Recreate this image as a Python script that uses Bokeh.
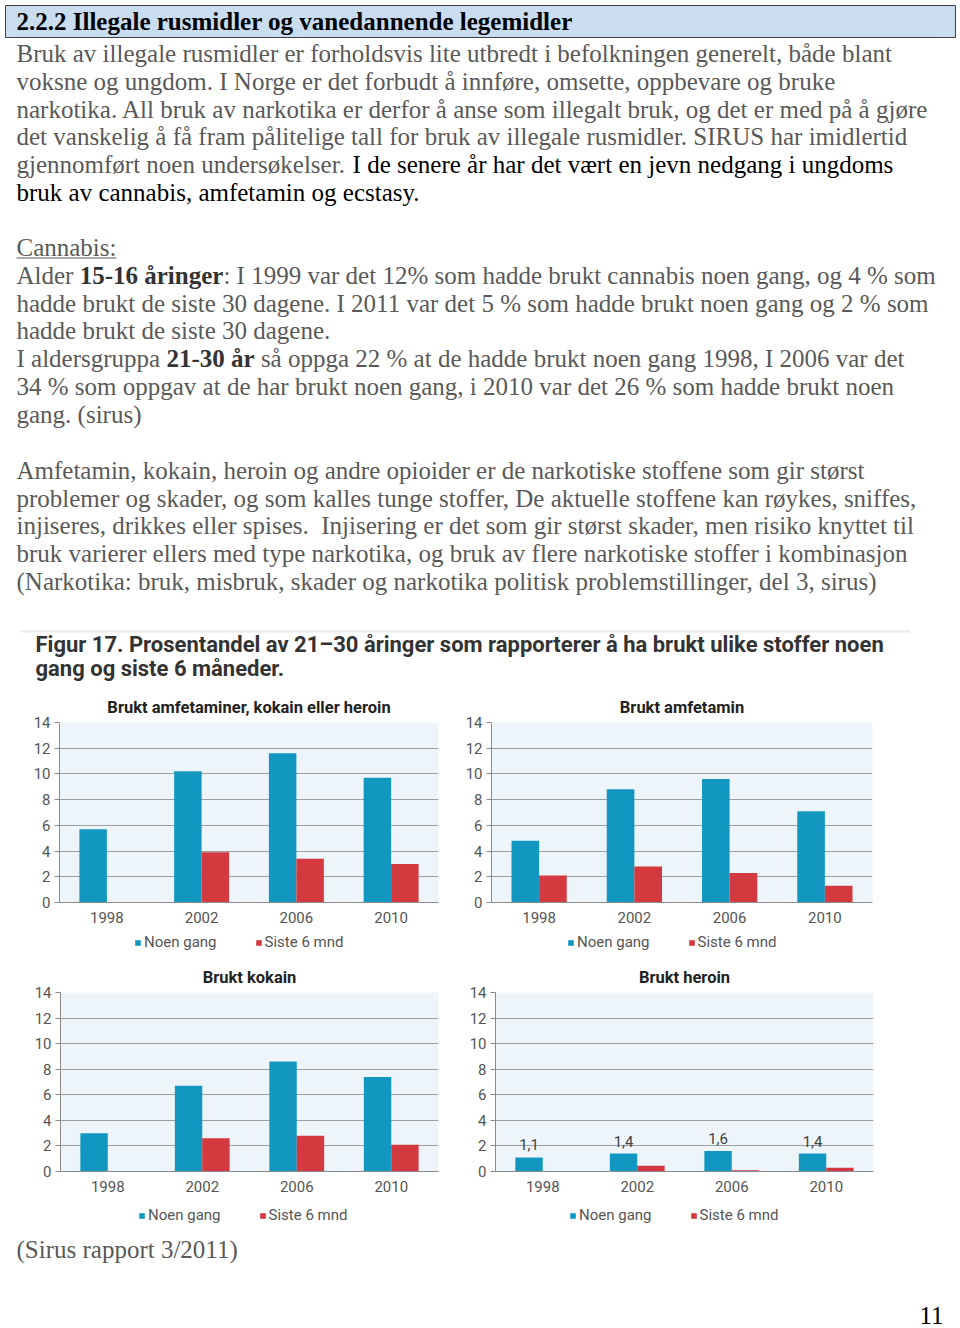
import numpy as np
from bokeh.plotting import figure
from bokeh.models import (ColumnDataSource, Range1d, FixedTicker, Legend, LegendItem)
from bokeh.layouts import column, row
from bokeh.transform import dodge
from bokeh.core.properties import value
from bokeh.embed import file_html
from bokeh.resources import INLINE

# ---------------- data ----------------
years = ["1998", "2002", "2006", "2010"]
series_labels = ["Noen gang", "Siste 6 mnd"]
y_ticks = [0, 2, 4, 6, 8, 10, 12, 14]

akh_noen = [5.7, 10.2, 11.6, 9.7]
akh_siste = [np.nan, 3.9, 3.4, 3.0]
amf_noen = [4.8, 8.8, 9.6, 7.1]
amf_siste = [2.1, 2.8, 2.3, 1.3]
kok_noen = [3.0, 6.7, 8.6, 7.4]
kok_siste = [np.nan, 2.6, 2.8, 2.1]
her_noen = [1.1, 1.4, 1.6, 1.4]
her_siste = [np.nan, 0.45, 0.1, 0.3]

chart_titles = ["Brukt amfetaminer, kokain eller heroin", "Brukt amfetamin",
                "Brukt kokain", "Brukt heroin"]

BLUE = "#1297c1"
RED = "#d3393f"
GRAY_TXT = "#595959"
SERIF = "Liberation Serif"
SANS = "Roboto"
PAGE_W = 958

# ------------- Times-compatible metrics for segment placement -------------
REG = {' ': 250, '.': 250, ',': 250, ':': 278, '-': 333, '%': 833, '(': 333, ')': 333,
       '/': 278, 'A': 722, 'C': 667, 'I': 333, 'S': 556,
       'a': 444, 'b': 500, 'c': 444, 'd': 500, 'e': 444, 'f': 333, 'g': 500, 'h': 500,
       'i': 278, 'j': 278, 'k': 500, 'l': 278, 'm': 778, 'n': 500, 'o': 500, 'p': 500,
       'q': 500, 'r': 333, 's': 389, 't': 278, 'u': 500, 'v': 500, 'w': 722, 'x': 500,
       'y': 500, 'z': 444, 'å': 444, 'ø': 500, 'æ': 667}
BOLD = {' ': 250, '-': 333, ':': 333, 'a': 500, 'b': 556, 'c': 444, 'd': 556, 'e': 444,
        'f': 333, 'g': 500, 'h': 556, 'i': 278, 'j': 333, 'k': 556, 'l': 278, 'm': 833,
        'n': 556, 'o': 500, 'p': 556, 'r': 444, 's': 389, 't': 333, 'u': 556, 'v': 500,
        'å': 500, 'ø': 500}
FS = 25


def tw(s, bold=False):
    tab = BOLD if bold else REG
    return sum(tab.get(ch, 500) for ch in s) * FS / 1000.0


# ---------------- text page (top) ----------------
X0 = 16
segs = []  # x, center-y, text, color, style


def add(x, yc, t, color=GRAY_TXT, style="normal"):
    segs.append((x, yc, t, color, style))


b1 = ["Bruk av illegale rusmidler er forholdsvis lite utbredt i befolkningen generelt, både blant",
      "voksne og ungdom. I Norge er det forbudt å innføre, omsette, oppbevare og bruke",
      "narkotika. All bruk av narkotika er derfor å anse som illegalt bruk, og det er med på å gjøre",
      "det vanskelig å få fram pålitelige tall for bruk av illegale rusmidler. SIRUS har imidlertid"]
for t, yc in zip(b1, [53, 81, 109, 136]):
    add(X0, yc, t)
s5a = "gjennomført noen undersøkelser. "
add(X0, 164, s5a)
add(X0 + tw(s5a), 164, "I de senere år har det vært en jevn nedgang i ungdoms", "#000000")
add(X0, 192, "bruk av cannabis, amfetamin og ecstasy.", "#000000")

add(X0, 247, "Cannabis:")
a1, a2 = "Alder ", "15-16 åringer"
add(X0, 275, a1)
add(X0 + tw(a1), 275, a2, "#333333", "bold")
add(X0 + tw(a1) + tw(a2, True), 275,
    ": I 1999 var det 12% som hadde brukt cannabis noen gang, og 4 % som")
add(X0, 303, "hadde brukt de siste 30 dagene. I 2011 var det 5 % som hadde brukt noen gang og 2 % som")
add(X0, 330, "hadde brukt de siste 30 dagene.")
c1, c2 = "I aldersgruppa ", "21-30 år"
add(X0, 358, c1)
add(X0 + tw(c1), 358, c2, "#333333", "bold")
add(X0 + tw(c1) + tw(c2 + " ", True), 358,
    "så oppga 22 % at de hadde brukt noen gang 1998, I 2006 var det")
add(X0, 386, "34 % som oppgav at de har brukt noen gang, i 2010 var det 26 % som hadde brukt noen")
add(X0, 414, "gang. (sirus)")

b3 = ["Amfetamin, kokain, heroin og andre opioider er de narkotiske stoffene som gir størst",
      "problemer og skader, og som kalles tunge stoffer, De aktuelle stoffene kan røykes, sniffes,",
      "injiseres, drikkes eller spises.\u00a0 Injisering er det som gir størst skader, men risiko knyttet til",
      "bruk varierer ellers med type narkotika, og bruk av flere narkotiske stoffer i kombinasjon",
      "(Narkotika: bruk, misbruk, skader og narkotika politisk problemstillinger, del 3, sirus)"]
for t, yc in zip(b3, [470, 498, 525, 553, 581]):
    add(X0, yc, t)


def blank_fig(y0, y1, x0=0, x1=PAGE_W):
    f = figure(x_range=Range1d(x0, x1), y_range=Range1d(y1, y0),
               width=int(x1 - x0), height=int(y1 - y0), min_border=0,
               toolbar_location=None, output_backend="svg",
               x_axis_location=None, y_axis_location=None)
    f.grid.visible = False
    f.outline_line_color = None
    f.background_fill_color = "white"
    f.border_fill_color = "white"
    return f


tp = blank_fig(0, 625)
tp.quad(left=5, right=955, top=5, bottom=37, fill_color="#c9dcf0",
        line_color="#404040", line_width=1)
tp.text(x=[X0], y=[21], text=["2.2.2 Illegale rusmidler og vanedannende legemidler"],
        text_font=value(SERIF), text_font_size="25px", text_font_style="bold",
        text_color="#000000", text_baseline="middle")
tsrc = ColumnDataSource(dict(x=[s[0] for s in segs], y=[s[1] for s in segs],
                             t=[s[2] for s in segs], c=[s[3] for s in segs],
                             st=[s[4] for s in segs]))
tp.text(x="x", y="y", text="t", text_color="c", text_font_style="st", source=tsrc,
        text_font=value(SERIF), text_font_size="25px", text_baseline="middle")
tp.segment(x0=[X0], x1=[X0 + tw("Cannabis:")], y0=[257.5], y1=[257.5],
           line_color=GRAY_TXT, line_width=1.2)

# ---------------- figure caption ----------------
fp = blank_fig(625, 690)
fp.segment(x0=[20], x1=[910], y0=[631], y1=[631], line_color="#ececec", line_width=2)
fp.text(x=[35, 35], y=[644, 668],
        text=["Figur 17. Prosentandel av 21–30 åringer som rapporterer å ha brukt ulike stoffer noen",
              "gang og siste 6 måneder."],
        text_font=value(SANS), text_font_size="22px", text_font_style="bold",
        text_color="#333333", text_baseline="middle")


# ---------------- charts ----------------
def chart(title, noen, siste, w, bl, br, bt, bb, show_labels=False):
    labs = [("%.1f" % v).replace(".", ",") for v in noen]
    src = ColumnDataSource(dict(year=years, noen=np.array(noen, dtype=float),
                                siste=np.array(siste, dtype=float), lab=labs))
    p = figure(x_range=years, y_range=Range1d(0, 14), width=w, height=240,
               min_border_left=bl, min_border_right=br, min_border_top=bt,
               min_border_bottom=bb, toolbar_location=None, output_backend="svg",
               title=title)
    p.vbar(x=dodge("year", -0.145, range=p.x_range), top="noen", width=0.29,
           source=src, fill_color=BLUE, line_color=None)
    p.vbar(x=dodge("year", 0.145, range=p.x_range), top="siste", width=0.29,
           source=src, fill_color=RED, line_color=None)
    if show_labels:
        p.text(x=dodge("year", -0.145, range=p.x_range), y="noen", text="lab", source=src,
               text_align="center", text_baseline="bottom", y_offset=-7,
               text_font=value(SANS), text_font_size="15px", text_color="#444444")
    p.background_fill_color = "#eef5fa"
    p.border_fill_color = "white"
    p.outline_line_color = None
    p.xgrid.visible = False
    p.ygrid.ticker = FixedTicker(ticks=y_ticks)
    p.ygrid.grid_line_color = "#9e9e9e"
    p.yaxis.ticker = FixedTicker(ticks=y_ticks)
    p.yaxis.minor_tick_line_color = None
    p.yaxis.major_tick_out = 5
    p.yaxis.major_tick_in = 0
    p.yaxis.major_label_standoff = 4
    for ax in (p.xaxis, p.yaxis):
        ax.axis_line_color = "#8a8a8a"
        ax.major_tick_line_color = "#8a8a8a"
        ax.major_label_text_font = SANS
        ax.major_label_text_font_size = "15px"
        ax.major_label_text_color = "#555555"
    p.xaxis.major_tick_line_color = None
    p.xaxis.major_tick_out = 0
    p.xaxis.major_tick_in = 0
    p.xaxis.major_label_standoff = 9
    p.title.align = "center"
    p.title.text_font = SANS
    p.title.text_font_size = "16.5px"
    p.title.text_font_style = "bold"
    p.title.text_color = "#222222"
    p.title.standoff = 11
    return p


def legend_fig(w, vx, vy):
    lf = blank_fig(0, 30, 0, w)
    lf.y_range = Range1d(0, 30)
    # placeholder glyphs (not visible) that carry the series colours for the legend keys
    ra = lf.vbar(x=[np.nan], top=[np.nan], width=1, fill_color=BLUE, line_color=None)
    rb = lf.vbar(x=[np.nan], top=[np.nan], width=1, fill_color=RED, line_color=None)
    leg = Legend(items=[LegendItem(label=series_labels[0], renderers=[ra]),
                        LegendItem(label=series_labels[1], renderers=[rb])],
                 orientation="horizontal", location=(vx, vy))
    leg.border_line_color = None
    leg.background_fill_alpha = 0
    leg.glyph_width = 7
    leg.glyph_height = 7
    leg.label_standoff = 3
    leg.spacing = 38
    leg.padding = 0
    leg.margin = 0
    leg.label_height = 20
    leg.label_text_font = SANS
    leg.label_text_font_size = "15px"
    leg.label_text_color = "#555555"
    lf.add_layout(leg)
    return lf


W1, W2 = 452, PAGE_W - 452
ch1 = chart(chart_titles[0], akh_noen, akh_siste, W1, 59, 14, 29, 28)
ch2 = chart(chart_titles[1], amf_noen, amf_siste, W2, 39, 86, 29, 28)
ch3 = chart(chart_titles[2], kok_noen, kok_siste, W1, 60, 14, 28, 29)
ch4 = chart(chart_titles[3], her_noen, her_siste, W2, 43, 85, 28, 29, show_labels=True)

lg1 = legend_fig(W1, 134, 8)
lg2 = legend_fig(W2, 115, 8)
lg3 = legend_fig(W1, 138, 5)
lg4 = legend_fig(W2, 117, 5)

# ---------------- footer ----------------
ft = blank_fig(1230, 1328)
ft.text(x=[X0], y=[1249], text=["(Sirus rapport 3/2011)"], text_font=value(SERIF),
        text_font_size="25px", text_color=GRAY_TXT, text_baseline="middle")
ft.text(x=[943], y=[1315], text=["11"], text_font=value(SERIF), text_font_size="25px",
        text_color="#000000", text_baseline="middle", text_align="right")

page = column(tp, fp, row(ch1, ch2), row(lg1, lg2), row(ch3, ch4), row(lg3, lg4), ft)

open("out.html", "w").write(file_html(page, INLINE))
